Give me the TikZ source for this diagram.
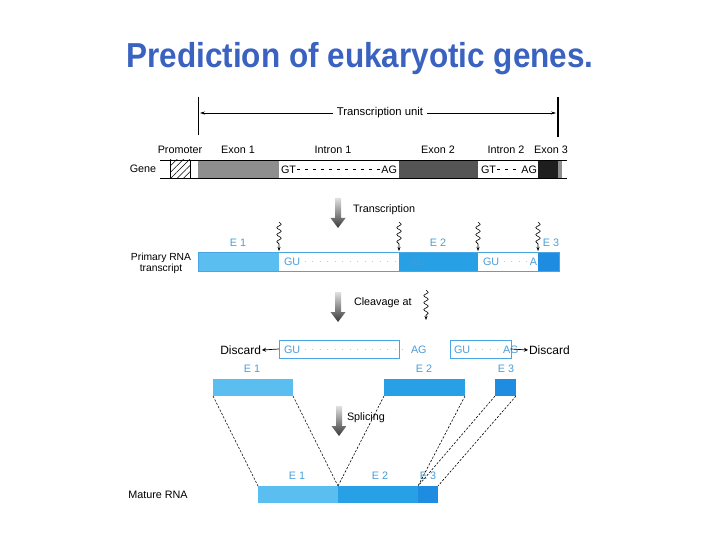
\documentclass[tikz,border=0pt]{standalone}
\usepackage{fontspec}
\setmainfont{Liberation Sans}
\usetikzlibrary{arrows.meta,patterns,patterns.meta,decorations.pathmorphing}
\definecolor{titleblue}{HTML}{3A62C0}
\definecolor{eone}{HTML}{5ABEF0}
\definecolor{etwo}{HTML}{28A0E6}
\definecolor{ethree}{HTML}{1E8CE1}
\definecolor{eblue}{HTML}{4A9ED8}
\definecolor{boxblue}{HTML}{4AA6E2}
\definecolor{gone}{HTML}{8E8E8E}
\definecolor{gtwo}{HTML}{555555}
\definecolor{gthree}{HTML}{1E1E1E}
\newcommand\gradarrow[3]{%
  \shade[top color=black!12, bottom color=black!78]
    (#1-3,#2) -- (#1+3,#2) -- (#1+3,#2+20) -- (#1+7.5,#2+20) -- (#1,#2+30)
    -- (#1-7.5,#2+20) -- (#1-3,#2+20) -- cycle;
  \coordinate (#3) at (#1,#2+15);}
\tikzset{
  lbl/.style={font=\fontsize{10.8}{12}\selectfont, inner sep=0pt, outer sep=0pt},
  elbl/.style={lbl, text=eblue},
  seg/.style={draw=none, inner sep=0pt, outer sep=0pt, anchor=north west},
  wavy/.style={decorate, decoration={snake, amplitude=2.2pt, segment length=7pt, post length=4pt}},
  wtip/.style={-{Stealth[length=4pt,width=3pt]}},
  dconn/.style={dash pattern=on 2.2pt off 1.6pt, line width=0.6pt},
  ddots/.style={boxblue, line width=0.9pt, line cap=round, dash pattern=on 0pt off 7.5pt},
  discardbox/.style={draw=boxblue, line width=0.9pt, fill=white, inner sep=0pt, outer sep=0pt, anchor=north west, minimum height=18pt},
}
\begin{document}
\begin{tikzpicture}[x=1pt,y=-1pt]
\useasboundingbox[fill=white] (0,0) rectangle (720,540);
% title
\node[font=\fontsize{31.5}{36}\selectfont\bfseries, text=titleblue, yscale=1.1] (title) at (360,59) {Prediction of eukaryotic genes.};

% transcription unit
\coordinate (tuLt) at (198,97); \coordinate (tuLb) at (198,135);
\coordinate (tuRt) at (558,97); \coordinate (tuRb) at (558,137);
\draw[line width=0.8pt] (tuLt) -- (tuLb);
\draw[line width=2pt] (tuRt) -- (tuRb);
\node[lbl, font=\fontsize{11.3}{12}\selectfont] (tutext) at (380,113) {Transcription unit};
\coordinate (tuA) at (200,113); \coordinate (tuB) at (556,113);
\draw[line width=0.6pt, -{Stealth[length=5pt,width=3pt]}] ([xshift=-4pt]tutext.west) -- (tuA);
\draw[line width=0.6pt, -{Stealth[length=5pt,width=3pt]}] ([xshift=4pt]tutext.east) -- (tuB);

% gene labels
\node[lbl] (lprom) at (180,150) {Promoter};
\node[lbl] (lex1) at (238,150) {Exon 1};
\node[lbl] (lin1) at (333,150) {Intron 1};
\node[lbl] (lex2) at (438,150) {Exon 2};
\node[lbl] (lin2) at (506,150) {Intron 2};
\node[lbl] (lex3) at (551,150) {Exon 3};
\node[lbl] (lgene) at (143,169) {Gene};

% gene bar
\node[seg, fill=gone, minimum width=81pt, minimum height=18pt] (g1) at (198,160) {};
\node[seg, fill=gtwo, minimum width=79pt, minimum height=18pt] (g2) at (399,160) {};
\node[seg, fill=gthree, minimum width=20pt, minimum height=18pt] (g3) at (538,160) {};
\node[seg, fill=gone, minimum width=4pt, minimum height=18pt] (g4) at (558,160) {};
\node[seg, draw=black, line width=0.6pt, pattern={Lines[angle=45,distance=4.5pt,line width=0.5pt]}, minimum width=20pt, minimum height=18pt] (prom) at (170,160) {};
\draw[line width=0.8pt] (160,160) -- (567,160);
\draw[line width=0.8pt] (160,178) -- (567,178);
\node[lbl, anchor=west] (gt1) at (281,169.5) {GT};
\node[lbl, anchor=east] (ag1) at (397,169.5) {AG};
\draw[line width=0.7pt, dash pattern=on 3pt off 5pt] ([xshift=1pt]gt1.east) -- ([xshift=-1pt]ag1.west);
\node[lbl, anchor=west] (gt2) at (481,169.5) {GT};
\node[lbl, anchor=east] (ag2) at (537,169.5) {AG};
\draw[line width=0.7pt, dash pattern=on 3pt off 5pt] ([xshift=1pt]gt2.east) -- ([xshift=-1pt]ag2.west);

% transcription arrow
\gradarrow{338}{198}{arr1}
\node[lbl, anchor=west] (ltrans) at (353,210) {Transcription};

% primary RNA
\node[seg, fill=eone, minimum width=81pt, minimum height=19pt] (p1) at (198,252) {};
\node[seg, fill=etwo, minimum width=79pt, minimum height=19pt] (p2) at (399,252) {};
\node[seg, fill=ethree, minimum width=21pt, minimum height=19pt] (p3) at (538,252) {};
\draw[boxblue, line width=0.9pt] (198,252) rectangle (559,271);
\node[elbl] (pe1) at (238,243) {E 1};
\node[elbl] (pe2) at (438,243) {E 2};
\node[elbl] (pe3) at (551,243) {E 3};
\node[lbl, align=center, font=\fontsize{10.3}{11}\selectfont] (lprim) at (161,263) {Primary RNA\\transcript};
\node[elbl, anchor=west] (pgu1) at (284,261.5) {GU};
\node[elbl, anchor=west, text=eblue!55!etwo] (pag1) at (410,261.5) {AG};
\draw[ddots] ([xshift=5pt]pgu1.east) -- (396,261.5);
\node[elbl, anchor=west] (pgu2) at (483,261.5) {GU};
\node[elbl, anchor=east] (pa2) at (537,261.5) {A};
\draw[ddots] ([xshift=5pt]pgu2.east) -- ([xshift=-3pt]pa2.west);
\coordinate (w1) at (279,222); \coordinate (w2) at (399,222);
\coordinate (w3) at (478,222); \coordinate (w4) at (538,222);
\foreach \w/\x in {w1/279,w2/399,w3/478,w4/538}{
  \draw[line width=0.6pt, wavy, wtip] (\w) -- (\x,251);
}

% cleavage
\gradarrow{338}{292}{arr2}
\node[lbl, anchor=west] (lcleave) at (354,303) {Cleavage at};
\coordinate (wc) at (426,290);
\draw[line width=0.6pt, wavy, wtip] (wc) -- (426,320);

% discard row
\node[discardbox, minimum width=120pt] (b1) at (279,340) {};
\node[discardbox, minimum width=61pt] (b2) at (450,340) {};
\node[elbl, anchor=west] (dgu1) at (284,349.5) {GU};
\draw[ddots] ([xshift=5pt]dgu1.east) -- (406,349.5);
\node[elbl, anchor=west] (dag1) at (411,349.5) {AG};
\node[elbl, anchor=west] (dgu2) at (454,349.5) {GU};
\draw[ddots] ([xshift=5pt]dgu2.east) -- (500,349.5);
\node[elbl, anchor=west] (dag2) at (503,349.5) {AG};
\node[lbl, anchor=east, font=\fontsize{12}{13}\selectfont] (disc1) at (261,350) {Discard};
\node[lbl, anchor=west, font=\fontsize{12}{13}\selectfont] (disc2) at (529,350) {Discard};
\draw[line width=0.7pt, -{Stealth[length=4pt,width=4pt]}] (b1.west) -- ([xshift=1pt]disc1.east);
\draw[line width=0.7pt, -{Stealth[length=4pt,width=4pt]}] (b2.east) -- ([xshift=-1pt]disc2.west);

% separated exons
\node[elbl] (se1) at (252,369) {E 1};
\node[elbl] (se2) at (424,369) {E 2};
\node[elbl] (se3) at (506,369) {E 3};
\node[seg, fill=eone, minimum width=80pt, minimum height=17pt] (x1) at (213,379) {};
\node[seg, fill=etwo, minimum width=81pt, minimum height=17pt] (x2) at (384,379) {};
\node[seg, fill=ethree, minimum width=21pt, minimum height=17pt] (x3) at (495,379) {};

% splicing
\gradarrow{339}{406}{arr3}
\node[lbl, anchor=west] (lsplice) at (347,418) {Splicing};

% mature RNA
\node[seg, fill=eone, minimum width=80pt, minimum height=17pt] (m1) at (258,486) {};
\node[seg, fill=etwo, minimum width=80pt, minimum height=17pt] (m2) at (338,486) {};
\node[seg, fill=ethree, minimum width=20pt, minimum height=17pt] (m3) at (418,486) {};
\node[elbl] (me1) at (297,476) {E 1};
\node[elbl] (me2) at (380,476) {E 2};
\node[elbl] (me3) at (428,476) {E 3};
\node[lbl] (lmature) at (158,495) {Mature RNA};

% dashed connectors
\draw[dconn] (x1.south west) -- (m1.north west);
\draw[dconn] (x1.south east) -- (m1.north east);
\draw[dconn] (x2.south west) -- (m2.north west);
\draw[dconn] (x2.south east) -- (m2.north east);
\draw[dconn] (x3.south west) -- (m3.north west);
\draw[dconn] (x3.south east) -- (m3.north east);
\end{tikzpicture}
\end{document}
